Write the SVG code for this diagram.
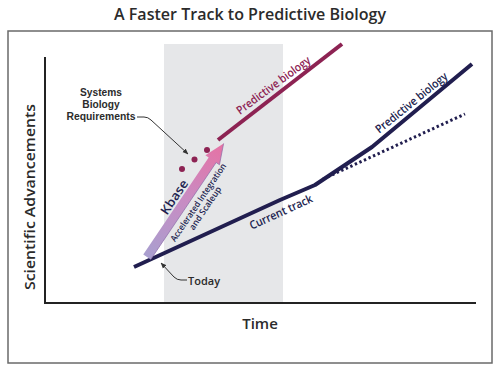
<svg xmlns="http://www.w3.org/2000/svg" width="500" height="373" viewBox="0 0 500 373">
<style>
text{font-family:"Open Sans","Liberation Sans",sans-serif;font-weight:600}
.navy{fill:#211e4f}
.crim{fill:#8d2353}
.lbl{fill:#2b2b2b}
.req{font-family:"Liberation Sans",Arial,sans-serif;font-weight:700}
.lead{fill:none;stroke:#333;stroke-width:1}
</style>
<defs>
<linearGradient id="kg" gradientUnits="userSpaceOnUse" x1="0" y1="0" x2="137" y2="0">
<stop offset="0" stop-color="#a99fcf"/>
<stop offset="0.5" stop-color="#c88cc3"/>
<stop offset="1" stop-color="#e672a4"/>
</linearGradient>
<marker id="ah" viewBox="0 0 10 10" refX="9" refY="5" markerWidth="6" markerHeight="6" orient="auto">
<path d="M0,1 L10,5 L0,9 Z" fill="#333"/>
</marker>
</defs>
<rect width="500" height="373" fill="#fff"/>
<text x="250" y="20" text-anchor="middle" font-size="15.5" textLength="272" lengthAdjust="spacingAndGlyphs" class="lbl">A Faster Track to Predictive Biology</text>
<rect id="frame" x="8" y="31" width="484" height="332" fill="#fff" stroke="#6a6a6a" stroke-width="1.5"/>
<rect id="window" x="164" y="44" width="119" height="259" fill="#e6e7e9"/>
<g id="axes" fill="none" stroke="#232323" stroke-width="2">
<path d="M45,57 L45,303 L476,303"/>
</g>
<text x="260" y="329" text-anchor="middle" font-size="15" class="lbl">Time</text>
<text transform="translate(35,197) rotate(-90)" text-anchor="middle" font-size="14.5" textLength="186" lengthAdjust="spacingAndGlyphs" class="lbl">Scientific Advancements</text>
<g id="connectors">
<path id="dotted" d="M323,179 L465,114" fill="none" stroke="#211e4f" stroke-width="3" stroke-dasharray="2.4 2.6"/>
<path id="current-track" d="M134,267 L280,200 L315,185 L372,147 L472,64" fill="none" stroke="#211e4f" stroke-width="4" stroke-linejoin="round"/>
<path id="fast-track" d="M218,140 L342,44" fill="none" stroke="#8d2353" stroke-width="4"/>
<path class="lead" d="M137,117 L144,117 Q148,117 151,120 L188,154" marker-end="url(#ah)"/>
<path class="lead" d="M187,280 L181,280 Q177,280 174,277 L161,263" marker-end="url(#ah)"/>
</g>
<g id="kbase" transform="translate(147,257) rotate(-56)">
<path d="M0,-4.5 L117,-4.5 L117,-8.5 L137,0 L117,8.5 L117,4.5 L0,4.5 Z" fill="url(#kg)"/>
<path d="M0,4.5 L117,4.5 L117,8.5 L137,0" fill="none" stroke="#8a6aa8" stroke-width="0.9" opacity="0.7"/>
<text x="65" y="-6.5" text-anchor="middle" font-size="12.5" font-weight="700" textLength="39" lengthAdjust="spacingAndGlyphs" class="navy">Kbase</text>
<text x="74" y="15" text-anchor="middle" font-size="8.8" textLength="92" lengthAdjust="spacingAndGlyphs" class="navy">Accelerated Integration</text>
<text x="73" y="24" text-anchor="middle" font-size="8.8" textLength="50" lengthAdjust="spacingAndGlyphs" class="navy">and Scaleup</text>
</g>
<g id="requirements">
<circle cx="182" cy="169" r="3" class="crim"/>
<circle cx="194.5" cy="159.5" r="3" class="crim"/>
<circle cx="207" cy="150" r="3" class="crim"/>
<text x="101" y="96" text-anchor="middle" font-size="10.2" class="lbl req">Systems</text>
<text x="101" y="108" text-anchor="middle" font-size="10.2" class="lbl req">Biology</text>
<text x="101" y="120" text-anchor="middle" font-size="10.2" textLength="69" lengthAdjust="spacingAndGlyphs" class="lbl req">Requirements</text>
</g>
<g id="today"><text x="188" y="285" font-size="11" class="lbl">Today</text></g>
<g id="current-label"><text transform="translate(281,212) rotate(-24.5)" y="4" text-anchor="middle" font-size="11.5" textLength="68" lengthAdjust="spacingAndGlyphs" class="navy">Current track</text></g>
<g id="pred-fast"><text transform="translate(274,86) rotate(-36.5)" y="3" text-anchor="middle" font-size="11.5" textLength="89" lengthAdjust="spacingAndGlyphs" class="crim">Predictive biology</text></g>
<g id="pred-slow"><text transform="translate(412,103.5) rotate(-39)" y="3" text-anchor="middle" font-size="11.5" textLength="89" lengthAdjust="spacingAndGlyphs" class="navy">Predictive biology</text></g>
</svg>
